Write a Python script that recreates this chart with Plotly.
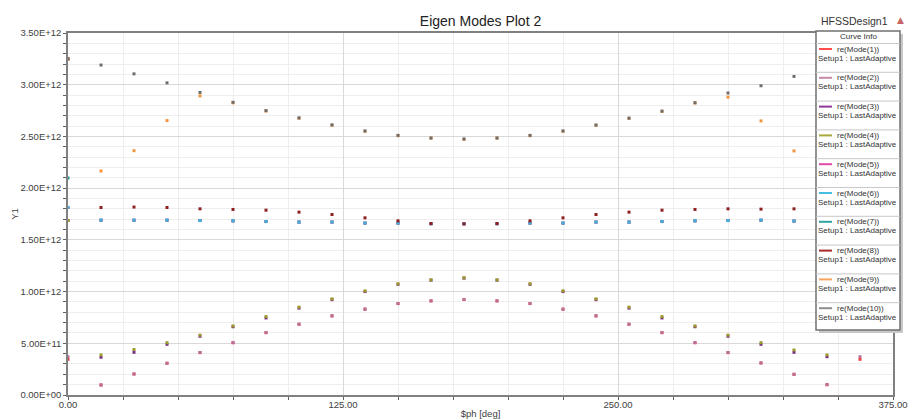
import plotly.graph_objects as go

# ---------------- data ----------------
phase = [0, 15, 30, 45, 60, 75, 90, 105, 120, 135, 150, 165, 180,
         195, 210, 225, 240, 255, 270, 285, 300, 315, 330, 345, 360]

SCALE = 1e12  # values below are read in units of 1E+12

mode1 = [0.345, 0.097, 0.203, 0.307, 0.410, 0.506, 0.603, 0.684, 0.765, 0.830, 0.884, 0.910, 0.923,
         0.910, 0.884, 0.830, 0.765, 0.684, 0.603, 0.506, 0.410, 0.310, 0.200, 0.100, 0.345]
mode2 = [0.370, 0.097, 0.203, 0.307, 0.410, 0.506, 0.603, 0.684, 0.765, 0.830, 0.884, 0.910, 0.923,
         0.910, 0.884, 0.830, 0.765, 0.684, 0.603, 0.506, 0.410, 0.310, 0.200, 0.100, 0.370]
mode3 = [1.687, 0.365, 0.413, 0.490, 0.568, 0.660, 0.745, 0.840, 0.922, 1.000, 1.070, 1.110, 1.130,
         1.110, 1.070, 1.000, 0.922, 0.840, 0.745, 0.660, 0.568, 0.490, 0.413, 0.370, 1.687]
mode4 = [1.687, 0.387, 0.440, 0.506, 0.578, 0.668, 0.758, 0.849, 0.929, 1.007, 1.075, 1.113, 1.133,
         1.113, 1.075, 1.007, 0.929, 0.849, 0.758, 0.668, 0.578, 0.506, 0.435, 0.387, 1.687]
mode5 = [1.813, 1.690, 1.690, 1.690, 1.687, 1.684, 1.677, 1.672, 1.672, 1.662, 1.662, 1.656, 1.655,
         1.656, 1.662, 1.662, 1.672, 1.672, 1.677, 1.684, 1.687, 1.690, 1.682, 1.690, 1.813]
mode6 = [1.813, 1.690, 1.690, 1.690, 1.687, 1.684, 1.677, 1.672, 1.672, 1.662, 1.662, 1.656, 1.655,
         1.656, 1.662, 1.662, 1.672, 1.672, 1.677, 1.684, 1.687, 1.690, 1.682, 1.690, 1.813]
mode7 = [2.098, 1.690, 1.690, 1.690, 1.687, 1.684, 1.677, 1.672, 1.672, 1.662, 1.662, 1.656, 1.655,
         1.656, 1.662, 1.662, 1.672, 1.672, 1.677, 1.684, 1.687, 1.690, 1.682, 1.690, 2.098]
mode8 = [3.250, 1.813, 1.817, 1.813, 1.800, 1.794, 1.787, 1.768, 1.745, 1.713, 1.684, 1.658, 1.655,
         1.658, 1.684, 1.713, 1.745, 1.768, 1.787, 1.794, 1.800, 1.797, 1.800, 1.813, 3.250]
mode9 = [3.250, 2.166, 2.362, 2.653, 2.892, 2.825, 2.745, 2.675, 2.608, 2.550, 2.507, 2.483, 2.473,
         2.483, 2.507, 2.550, 2.608, 2.675, 2.742, 2.823, 2.880, 2.650, 2.360, 2.166, 3.250]
mode10 = [3.250, 3.190, 3.105, 3.018, 2.925, 2.830, 2.750, 2.680, 2.612, 2.553, 2.510, 2.485, 2.475,
          2.485, 2.510, 2.553, 2.610, 2.677, 2.745, 2.826, 2.920, 2.990, 3.080, 3.190, 3.250]

modes = [mode1, mode2, mode3, mode4, mode5, mode6, mode7, mode8, mode9, mode10]
mode_names = ["re(Mode(%d))" % i for i in range(1, 11)]
setup_label = "Setup1 : LastAdaptive"
colors = ["#ff4d4d", "#c48aaa", "#8e3a96", "#a8a83c", "#e04aa8",
          "#45bfe0", "#2fa3a3", "#a82a2a", "#f7a460", "#8c8c8c"]
marker_colors = ["#f04040", "#b8709a", "#7a2c86", "#9c9c2c", "#d83c9c",
                 "#3cb2dc", "#289898", "#8e2020", "#f39440", "#6e6e6e"]
draw_order = [0, 1, 2, 3, 6, 4, 5, 7, 8, 9]   # trace stacking order (index into modes)

y_tickvals = [0.0, 0.5, 1.0, 1.5, 2.0, 2.5, 3.0, 3.5]
y_ticktext = ["0.00E+00", "5.00E+11", "1.00E+12", "1.50E+12", "2.00E+12",
              "2.50E+12", "3.00E+12", "3.50E+12"]

# ---------------- figure ----------------
W, H = 910, 419
ML, MR, MT, MB = 68, 17, 33, 24
PW, PH = W - ML - MR, H - MT - MB

def px(x):
    return (x - ML) / PW

def py(y):
    return (H - MB - y) / PH

FONT = "Liberation Sans, Arial, sans-serif"

fig = go.Figure()
for k in draw_order:
    fig.add_trace(go.Scatter(
        x=phase, y=[v * SCALE for v in modes[k]], mode="markers", name=mode_names[k],
        marker=dict(symbol="square", size=3, color=marker_colors[k], line=dict(width=0)),
        showlegend=False, cliponaxis=False))

fig.update_layout(
    width=W, height=H,
    margin=dict(l=ML, r=MR, t=MT, b=MB, autoexpand=False),
    paper_bgcolor="white", plot_bgcolor="white",
    font=dict(family=FONT, size=9, color="#404040"),
    title=dict(text="Eigen Modes Plot 2", x=0.5, xref="paper", xanchor="center",
               y=1 - 21 / H, yref="container", yanchor="middle",
               font=dict(size=14, color="#222222", family=FONT)),
    showlegend=False,
)

fig.update_xaxes(
    range=[0, 375], tickmode="linear", tick0=0, dtick=125, tickformat=".2f",
    ticks="outside", ticklen=3, tickcolor="#606060", ticklabelstandoff=-3,
    showgrid=True, gridcolor="#d9d9d9", gridwidth=1,
    minor=dict(dtick=25, tick0=0, ticks="outside", ticklen=3, tickcolor="#606060",
               showgrid=True, gridcolor="#eeeeee", gridwidth=1),
    showline=True, linecolor="#808080", linewidth=1.5, mirror=True,
    zeroline=False, automargin=False,
    tickfont=dict(size=9.5, color="#404040"),
    title=dict(text="$ph [deg]", standoff=2, font=dict(size=9.5, color="#404040")),
)
fig.update_yaxes(
    range=[0, 3.5 * SCALE], tickmode="array",
    tickvals=[v * SCALE for v in y_tickvals], ticktext=y_ticktext,
    ticks="outside", ticklen=3, tickcolor="#606060",
    showgrid=True, gridcolor="#d9d9d9", gridwidth=1,
    minor=dict(dtick=0.1 * SCALE, tick0=0, ticks="outside", ticklen=3, tickcolor="#606060",
               showgrid=True, gridcolor="#eeeeee", gridwidth=1),
    showline=True, linecolor="#808080", linewidth=1.5, mirror=True,
    zeroline=False, automargin=False,
    tickfont=dict(size=9.5, color="#404040"),
    title=dict(text="Y1", standoff=0, font=dict(size=9.5, color="#404040")),
)

# ---------------- custom "Curve Info" legend ----------------
LX0, LX1, LY0, LY1 = 816, 900, 31, 330
STEP = 28.8
LEG_FONT = 8
shapes = [
    dict(type="rect", xref="paper", yref="paper", layer="above",
         x0=px(LX0 + 3), x1=px(LX1 + 3), y0=py(LY0 + 3), y1=py(LY1 + 3),
         fillcolor="#c8c8c8", line=dict(width=0)),
    dict(type="rect", xref="paper", yref="paper", layer="above",
         x0=px(LX0), x1=px(LX1), y0=py(LY0), y1=py(LY1),
         fillcolor="white", line=dict(color="#707070", width=1.5)),
]
annotations = [
    dict(text="Curve Info", xref="paper", yref="paper", x=px((LX0 + LX1) / 2), y=py(37),
         xanchor="center", yanchor="middle", showarrow=False, borderpad=0,
         font=dict(size=LEG_FONT, color="#333333", family=FONT)),
    dict(text="HFSSDesign1", xref="paper", yref="paper", x=px(854), y=py(21),
         xanchor="center", yanchor="middle", showarrow=False,
         font=dict(size=10.5, color="#333333", family=FONT)),
    dict(text="▲", xref="paper", yref="paper", x=px(900), y=py(20),
         xanchor="center", yanchor="middle", showarrow=False,
         font=dict(size=9, color="#c86464", family="DejaVu Sans")),
]
for i, (name, col) in enumerate(zip(mode_names, colors)):
    sep = 43.5 + STEP * i
    ly = 49 + STEP * i
    shapes.append(dict(type="line", xref="paper", yref="paper", layer="above",
                       x0=px(LX0), x1=px(LX1), y0=py(sep), y1=py(sep),
                       line=dict(color="#c8c8c8", width=1)))
    shapes.append(dict(type="line", xref="paper", yref="paper", layer="above",
                       x0=px(819), x1=px(832), y0=py(ly), y1=py(ly),
                       line=dict(color=col, width=2)))
    annotations.append(dict(text=name, xref="paper", yref="paper", x=px(836), y=py(ly),
                            xanchor="left", yanchor="middle", showarrow=False, borderpad=0,
                            font=dict(size=LEG_FONT, color="#333333", family=FONT)))
    annotations.append(dict(text=setup_label, xref="paper", yref="paper", x=px(817),
                            y=py(ly + 9), xanchor="left", yanchor="middle", showarrow=False,
                            borderpad=0,
                            font=dict(size=LEG_FONT, color="#333333", family=FONT)))

fig.update_layout(shapes=shapes, annotations=annotations)

fig.write_html("out.html")
